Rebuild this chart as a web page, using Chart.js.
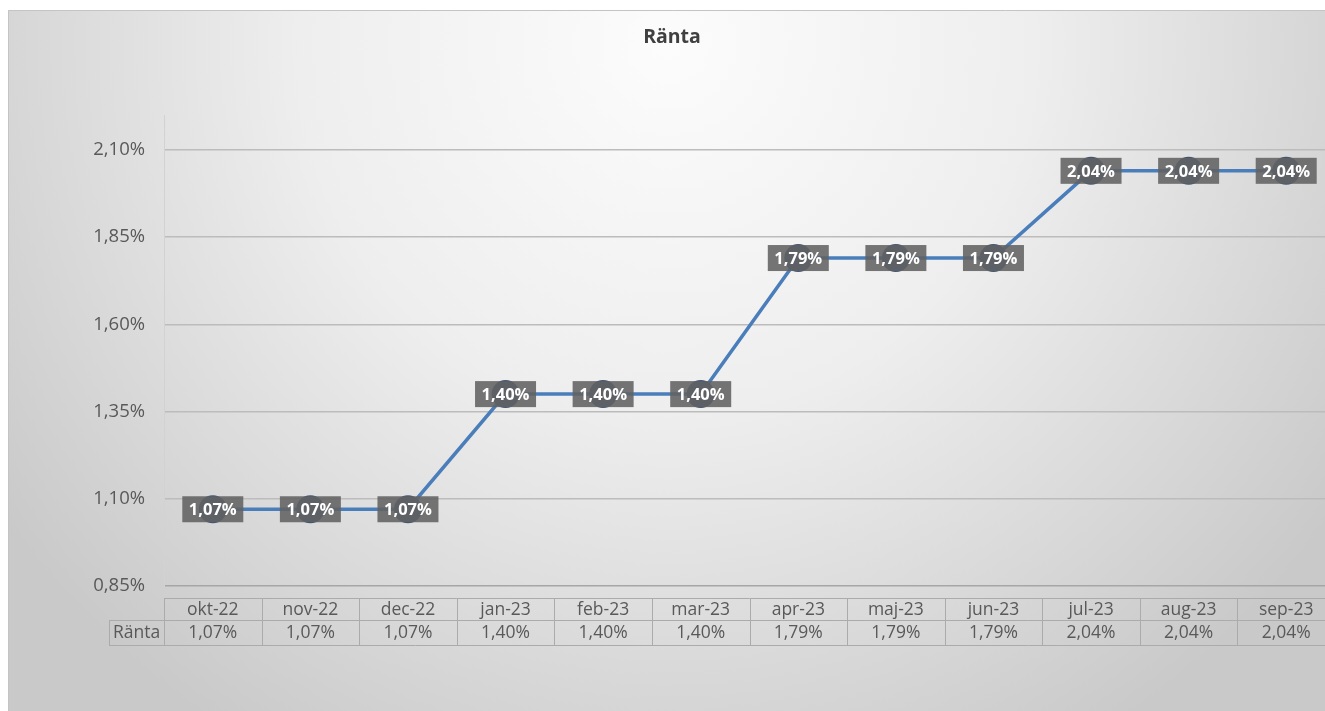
<!DOCTYPE html>
<html>
<head>
<meta charset="utf-8">
<script src="https://cdn.jsdelivr.net/npm/chart.js@4.4.0/dist/chart.umd.min.js"></script>
<style>
  html, body { margin: 0; padding: 0; background: #ffffff; width: 1325px; height: 711px; overflow: hidden; }
  #clip { position: absolute; left: 8px; top: 10px; width: 1317px; height: 701px; overflow: hidden; }
  #wrap { position: absolute; left: 0; top: 0; width: 1330px; height: 701px; }
  canvas { display: block; }
</style>
</head>
<body>
<div id="clip"><div id="wrap"><canvas id="c" width="1330" height="701" style="width:1330px;height:701px"></canvas></div></div>
<script>
const chartTitle = 'Ränta';
const seriesName = 'Ränta';
const categories = ['okt-22','nov-22','dec-22','jan-23','feb-23','mar-23','apr-23','maj-23','jun-23','jul-23','aug-23','sep-23'];
const values = [1.07, 1.07, 1.07, 1.40, 1.40, 1.40, 1.79, 1.79, 1.79, 2.04, 2.04, 2.04];
const yTickValues = [0.85, 1.10, 1.35, 1.60, 1.85, 2.10];
const yTickLabels = ['0,85%', '1,10%', '1,35%', '1,60%', '1,85%', '2,10%'];
const yMin = 0.85;
const yMax = 2.20;

const FONT = "'Open Sans', 'Noto Sans', sans-serif";
const fmt = v => v.toFixed(2).replace('.', ',') + '%';
const VISIBLE_W = 1317;

const bgPlugin = {
  id: 'bg',
  beforeDraw(chart) {
    const ctx = chart.ctx;
    const w = VISIBLE_W, h = chart.height;
    ctx.save();
    const g = ctx.createRadialGradient(w * 0.5, h * 0.05, 0, w * 0.5, h * 0.05, w * 0.62);
    g.addColorStop(0, '#fcfcfc');
    g.addColorStop(0.45, '#eeeeee');
    g.addColorStop(1, '#c9c9c9');
    ctx.fillStyle = g;
    ctx.fillRect(0, 0, chart.width, h);
    ctx.strokeStyle = '#c4c4c4';
    ctx.lineWidth = 1;
    ctx.beginPath();
    ctx.moveTo(0.5, h);
    ctx.lineTo(0.5, 0.5);
    ctx.lineTo(chart.width, 0.5);
    ctx.stroke();
    ctx.fillStyle = '#404040';
    ctx.font = "bold 19.5px " + FONT;
    ctx.textAlign = 'center';
    ctx.textBaseline = 'middle';
    ctx.fillText(chartTitle, 664, 27);
    ctx.restore();
  }
};

const labelPlugin = {
  id: 'dlabels',
  afterDatasetsDraw(chart) {
    const ctx = chart.ctx;
    const meta = chart.getDatasetMeta(0);
    ctx.save();
    ctx.font = "bold 16.5px " + FONT;
    ctx.textAlign = 'center';
    ctx.textBaseline = 'middle';
    meta.data.forEach((pt, i) => {
      const bw = 61, bh = 26;
      ctx.fillStyle = 'rgba(98,98,98,0.88)';
      ctx.fillRect(pt.x - bw / 2, pt.y - bh / 2, bw, bh);
      ctx.fillStyle = '#ffffff';
      ctx.fillText(fmt(values[i]), pt.x, pt.y + 1);
    });
    ctx.restore();
  }
};

const tablePlugin = {
  id: 'datatable',
  afterDraw(chart) {
    const ctx = chart.ctx;
    const area = chart.chartArea;
    const xs = chart.scales.x;
    const n = categories.length;
    const cw = (area.right - area.left) / n;
    const y0 = 588, y1 = 610, y2 = 635;
    const leftCell = 101;
    ctx.save();
    ctx.strokeStyle = '#ababab';
    ctx.lineWidth = 1;
    ctx.beginPath();
    ctx.moveTo(area.left, y0 + 0.5); ctx.lineTo(area.right, y0 + 0.5);
    ctx.moveTo(leftCell, y1 + 0.5); ctx.lineTo(area.right, y1 + 0.5);
    ctx.moveTo(leftCell, y2 + 0.5); ctx.lineTo(area.right, y2 + 0.5);
    ctx.moveTo(leftCell + 0.5, y1); ctx.lineTo(leftCell + 0.5, y2);
    for (let i = 0; i <= n; i++) {
      const x = Math.round(area.left + i * cw) + 0.5;
      ctx.moveTo(x, y0); ctx.lineTo(x, y2);
    }
    ctx.stroke();
    ctx.fillStyle = '#595959';
    ctx.font = "17.5px " + FONT;
    ctx.textAlign = 'center';
    ctx.textBaseline = 'middle';
    categories.forEach((c, i) => {
      const x = xs.getPixelForValue(i);
      ctx.fillText(c, x, (y0 + y1) / 2 + 1);
      ctx.fillText(fmt(values[i]), x, (y1 + y2) / 2 + 1);
    });
    ctx.fillText(seriesName, (leftCell + area.left) / 2, (y1 + y2) / 2 + 1);
    ctx.restore();
  }
};

new Chart(document.getElementById('c'), {
  type: 'line',
  data: {
    labels: categories,
    datasets: [{
      label: seriesName,
      data: values,
      borderColor: '#4a7ebb',
      borderWidth: 3.5,
      pointRadius: 14,
      pointHoverRadius: 14,
      pointBackgroundColor: '#3d5577',
      pointBorderWidth: 0,
      tension: 0
    }]
  },
  options: {
    responsive: false,
    animation: false,
    events: [],
    layout: { autoPadding: false, padding: { top: 105, bottom: 125, left: 0, right: 3 } },
    plugins: { legend: { display: false }, title: { display: false }, tooltip: { enabled: false } },
    scales: {
      x: { type: 'category', offset: true, display: false },
      y: {
        min: yMin,
        max: yMax,
        afterBuildTicks(scale) { scale.ticks = yTickValues.map(v => ({ value: v })); },
        afterFit(scale) { scale.width = 156; },
        ticks: {
          padding: 19,
          color: '#595959',
          font: { family: FONT, size: 18.5 },
          callback(v) { const i = yTickValues.findIndex(t => Math.abs(t - v) < 1e-6); return i >= 0 ? yTickLabels[i] : ''; }
        },
        grid: {
          drawTicks: false,
          lineWidth: 1.5,
          color(ctx) { return Math.abs(ctx.tick.value - yMin) < 1e-6 ? '#a6a6a6' : '#bcbcbc'; }
        },
        border: { display: true, color: '#d2d2d2', width: 1 }
      }
    }
  },
  plugins: [bgPlugin, labelPlugin, tablePlugin]
});
</script>
</body>
</html>
